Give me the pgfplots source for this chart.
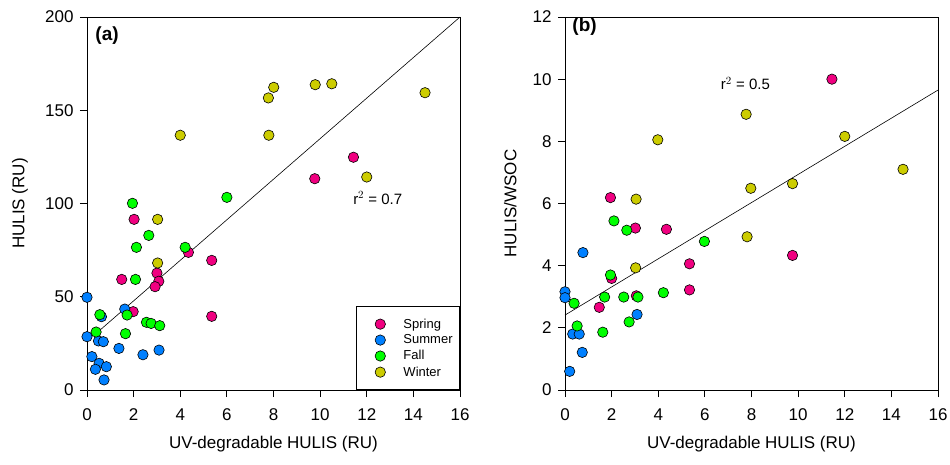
\documentclass[border=0pt]{standalone}
\usepackage{pgfplots}
\pgfplotsset{compat=1.18}
\usepackage{fontspec}
\setmainfont{Liberation Sans}
\definecolor{cspring}{RGB}{240,0,128}
\definecolor{csummer}{RGB}{0,128,255}
\definecolor{cfall}{RGB}{0,255,0}
\definecolor{cwinter}{RGB}{204,204,0}
\pgfplotsset{
  myax/.style={
    scale only axis, width=373pt, height=373pt,
    anchor=south west,
    xmin=0, xmax=16, xtick={0,2,...,16},
    tick align=outside, major tick length=7pt,
    xtick pos=bottom, ytick pos=left,
    axis line style={line width=0.8pt}, every tick/.style={black, line width=0.8pt},
    /pgf/number format/assume math mode=true,
    tick label style={font=\fontsize{17}{19}\selectfont},
    xticklabel style={yshift=-8pt},
    yticklabel style={xshift=-3pt},
    label style={font=\fontsize{17}{20}\selectfont},
    xlabel={UV-degradable HULIS (RU)},
    xlabel style={at={(axis description cs:0.5,-0.145)}, anchor=center},
    clip=false,
  },
  mk/.style={only marks, mark=*, mark size=5.2pt, mark options={draw=black, line width=0.6pt, fill=#1}},
}
\begin{document}
\begin{tikzpicture}
\path[use as bounding box] (0,0) rectangle (950pt,464pt);
% ---------------- (a)
\begin{axis}[myax, at={(87pt,74pt)},
  ymin=0, ymax=200, ytick={0,50,...,200},
  ylabel={HULIS (RU)},
  ylabel style={at={(axis description cs:-0.18,0.5)}, anchor=center},
  legend style={at={(1,0)}, anchor=south east, draw=black, line width=0.8pt,
    font=\fontsize{13}{15}\selectfont, inner xsep=5pt, inner ysep=10pt,
    row sep=1.2pt, column sep=16pt, nodes={inner sep=2pt}},
  legend cell align=left,
  legend image code/.code={\path (0pt,0pt); \draw[#1] plot coordinates {(18pt,0pt)};},
]
\addplot[mk=cspring] coordinates {(11.43,124.8)(9.77,113.3)(2.02,91.5)(4.35,73.8)(5.35,69.5)(3.0,62.7)(1.49,59.3)(3.08,58.3)(2.92,55.4)(1.98,42.0)(5.35,39.5)};
\addlegendentry{Spring}
\addplot[mk=csummer] coordinates {(0,49.7)(1.62,43.4)(0.62,39.3)(0,28.6)(0.49,26.3)(0.70,25.9)(1.37,22.3)(3.09,21.4)(2.4,18.9)(0.21,17.9)(0.52,14.3)(0.83,12.5)(0.36,11.1)(0.73,5.4)};
\addlegendentry{Summer}
\addplot[mk=cfall] coordinates {(6.0,103.3)(1.95,100.1)(2.65,82.9)(2.12,76.5)(4.21,76.5)(2.08,59.3)(1.72,40.2)(0.55,40.4)(2.55,36.3)(2.75,35.7)(3.12,34.5)(0.39,31.1)(1.65,30.2)};
\addlegendentry{Fall}
\addplot[mk=cwinter] coordinates {(8.01,162.3)(7.78,156.6)(9.79,163.7)(10.5,164.2)(14.5,159.4)(4.0,136.6)(7.8,136.6)(12.0,114.2)(3.03,91.5)(3.03,68.1)};
\addlegendentry{Winter}
\addplot[black, line width=0.6pt, forget plot] coordinates {(0.4,30.4)(16,200)};
\node[font=\fontsize{19}{21}\selectfont\bfseries] at (axis cs:0.86,190.3) {(a)};
\node[font=\fontsize{15}{17}\selectfont] at (axis cs:12.47,102.9) {r$^{2}$ = 0.7};
\end{axis}
% ---------------- (b)
\begin{axis}[myax, at={(565pt,74pt)},
  ymin=0, ymax=12, ytick={0,2,...,12},
  ylabel={HULIS/WSOC},
  ylabel style={at={(axis description cs:-0.147,0.5)}, anchor=center},
]
\addplot[mk=cspring] coordinates {(11.45,10.0)(1.95,6.19)(3.02,5.21)(4.35,5.17)(9.76,4.33)(5.34,4.06)(2.0,3.59)(5.34,3.22)(3.06,3.03)(1.47,2.66)};
\addplot[mk=csummer] coordinates {(0.77,4.42)(0,3.16)(0,2.97)(3.09,2.43)(0.33,1.80)(0.61,1.80)(0.74,1.21)(0.2,0.60)};
\addplot[mk=cfall] coordinates {(2.10,5.44)(2.65,5.14)(5.98,4.78)(1.95,3.70)(4.22,3.13)(1.70,2.99)(2.52,2.99)(3.13,2.99)(0.39,2.79)(2.75,2.19)(0.52,2.06)(1.62,1.86)};
\addplot[mk=cwinter] coordinates {(7.77,8.87)(3.98,8.05)(12.0,8.16)(14.5,7.1)(7.97,6.49)(9.76,6.64)(3.05,6.14)(7.81,4.93)(3.03,3.93)};
\addplot[black, line width=0.6pt] coordinates {(0,2.41)(16,9.65)};
\node[font=\fontsize{19}{21}\selectfont\bfseries] at (axis cs:0.84,11.69) {(b)};
\node[font=\fontsize{15}{17}\selectfont] at (axis cs:7.74,9.87) {r$^{2}$ = 0.5};
\end{axis}
\end{tikzpicture}
\end{document}
